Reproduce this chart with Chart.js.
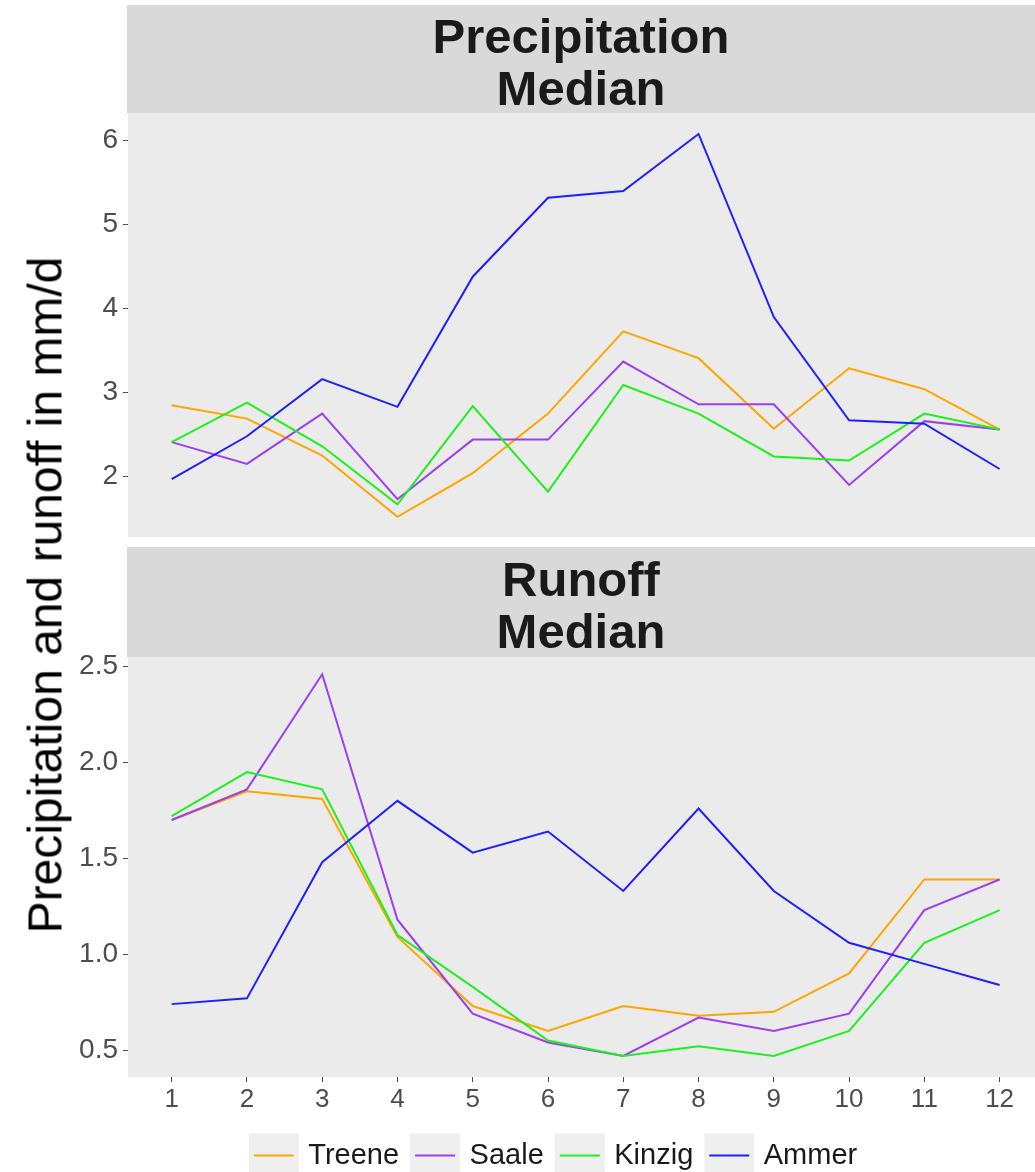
<!DOCTYPE html>
<html>
<head>
<meta charset="utf-8">
<script src="https://cdn.jsdelivr.net/npm/chart.js@4"></script>
<style>
  body { margin: 0; background: #fff; font-family: "Liberation Sans", Arial, sans-serif; }
  #wrap { position: relative; width: 1035px; height: 1172px; overflow: hidden; }
  .strip { position: absolute; left: 127px; width: 908px; background: #d9d9d9; box-sizing: border-box;
           display: flex; align-items: center; justify-content: center; text-align: center;
           font-weight: bold; font-size: 49px; line-height: 52px; color: #1a1a1a; padding-top: 6px; }
  #ytitle { position: absolute; left: 45px; top: 595px; transform: translate(-50%, -50%) rotate(-90deg);
            white-space: nowrap; font-size: 48px; color: #000; }
  canvas { position: absolute; left: 0; }
</style>
</head>
<body>
<div id="wrap">
  <canvas id="precipChart" style="top:0px" width="1035" height="540"></canvas>
  <canvas id="runoffChart" style="top:540px" width="1035" height="640"></canvas>
  <div class="strip" style="top:5px;height:108px;">Precipitation<br>Median</div>
  <div class="strip" style="top:547px;height:110px;">Runoff<br>Median</div>
  <div id="ytitle">Precipitation and runoff in mm/d</div>
</div>
<script>
const months = [1, 2, 3, 4, 5, 6, 7, 8, 9, 10, 11, 12];
const catchments = ['Treene', 'Saale', 'Kinzig', 'Ammer'];
const colors = ['#ffa500', '#9b3ff0', '#1ef01e', '#1f1fff'];

// precipitation median, mm/d
const precipTreene = [2.85, 2.69, 2.25, 1.52, 2.04, 2.75, 3.73, 3.41, 2.57, 3.29, 3.04, 2.56];
const precipSaale  = [2.41, 2.15, 2.75, 1.73, 2.44, 2.44, 3.37, 2.86, 2.86, 1.90, 2.66, 2.56];
const precipKinzig = [2.41, 2.88, 2.36, 1.67, 2.84, 1.82, 3.09, 2.75, 2.24, 2.19, 2.75, 2.56];
const precipAmmer  = [1.97, 2.48, 3.16, 2.83, 4.38, 5.32, 5.40, 6.08, 3.90, 2.67, 2.63, 2.09];

// runoff median, mm/d
const runoffTreene = [1.70, 1.85, 1.81, 1.09, 0.73, 0.60, 0.73, 0.68, 0.70, 0.90, 1.39, 1.39];
const runoffSaale  = [1.70, 1.86, 2.46, 1.18, 0.69, 0.54, 0.47, 0.67, 0.60, 0.69, 1.23, 1.39];
const runoffKinzig = [1.72, 1.95, 1.86, 1.10, 0.83, 0.55, 0.47, 0.52, 0.47, 0.60, 1.06, 1.23];
const runoffAmmer  = [0.74, 0.77, 1.48, 1.80, 1.53, 1.64, 1.33, 1.76, 1.33, 1.06, 0.95, 0.84];

const precipTicks = [2, 3, 4, 5, 6];
const runoffTicks = [0.5, 1.0, 1.5, 2.0, 2.5];

const tickColor = '#4d4d4d';

function makeSets(series) {
  return series.map((vals, i) => ({
    label: catchments[i],
    data: months.map((m, j) => ({ x: m, y: vals[j] })),
    borderColor: colors[i],
    backgroundColor: colors[i],
    borderWidth: 2,
    pointRadius: 0,
    tension: 0,
    order: 4 - i
  }));
}

// grey panel + grey legend key boxes, ggplot style
const panelBg = {
  id: 'panelBg',
  beforeDraw(chart) {
    const { ctx, chartArea: a } = chart;
    ctx.save();
    ctx.fillStyle = '#ebebeb';
    ctx.fillRect(a.left, a.top, a.right - a.left, a.bottom - a.top);
    if (chart.options.plugins.legend.display && chart.legend.legendHitBoxes) {
      ctx.fillStyle = '#efefef';
      chart.legend.legendHitBoxes.forEach(hb => {
        ctx.fillRect(hb.left - 5, hb.top + hb.height / 2 - 22, 50, 45);
      });
    }
    ctx.restore();
  }
};

function yScale(min, max, ticks, fmt, width) {
  return {
    type: 'linear',
    min: min,
    max: max,
    afterBuildTicks: s => { s.ticks = ticks.map(v => ({ value: v })); },
    afterFit: s => { s.width = width; s.paddingTop = 0; s.paddingBottom = 0; },
    border: { display: false },
    grid: { drawOnChartArea: false, drawTicks: true, tickLength: 5, color: tickColor },
    ticks: {
      padding: 5,
      color: tickColor,
      font: { size: 28, family: '"Liberation Sans", Arial, sans-serif' },
      callback: v => fmt(v)
    }
  };
}

const xBase = {
  type: 'linear',
  min: 0.42,
  max: 12.47,
  afterBuildTicks: s => { s.ticks = months.map(m => ({ value: m })); },
  border: { display: false },
  grid: { drawOnChartArea: false, drawTicks: true, tickLength: 5, color: tickColor },
  ticks: {
    padding: 2,
    color: tickColor,
    maxRotation: 0,
    autoSkip: false,
    font: { size: 26, family: '"Liberation Sans", Arial, sans-serif' },
    callback: v => String(v)
  }
};

new Chart(document.getElementById('precipChart'), {
  type: 'line',
  data: { datasets: makeSets([precipTreene, precipSaale, precipKinzig, precipAmmer]) },
  options: {
    responsive: false,
    animation: false,
    layout: { padding: { top: 113, bottom: 3, left: 0, right: 0 } },
    plugins: { legend: { display: false }, tooltip: { enabled: false } },
    scales: {
      x: Object.assign({}, xBase, { display: false }),
      y: yScale(1.28, 6.33, precipTicks, v => String(v), 128)
    }
  },
  plugins: [panelBg]
});

new Chart(document.getElementById('runoffChart'), {
  type: 'line',
  data: { datasets: makeSets([runoffTreene, runoffSaale, runoffKinzig, runoffAmmer]) },
  options: {
    responsive: false,
    animation: false,
    layout: { padding: { top: 117, bottom: 0, left: 76, right: 0 } },
    plugins: {
      tooltip: { enabled: false },
      legend: {
        display: true,
        position: 'bottom',
        labels: {
          usePointStyle: true,
          pointStyle: 'line',
          pointStyleWidth: 40,
          padding: 16,
          color: '#1a1a1a',
          font: { size: 29, family: '"Liberation Sans", Arial, sans-serif' },
          sort: (a, b) => a.datasetIndex - b.datasetIndex
        }
      }
    },
    scales: {
      x: Object.assign({}, xBase, { afterFit: s => { s.height = 48; } }),
      y: yScale(0.36, 2.55, runoffTicks, v => v.toFixed(1), 52)
    }
  },
  plugins: [panelBg]
});
</script>
</body>
</html>
